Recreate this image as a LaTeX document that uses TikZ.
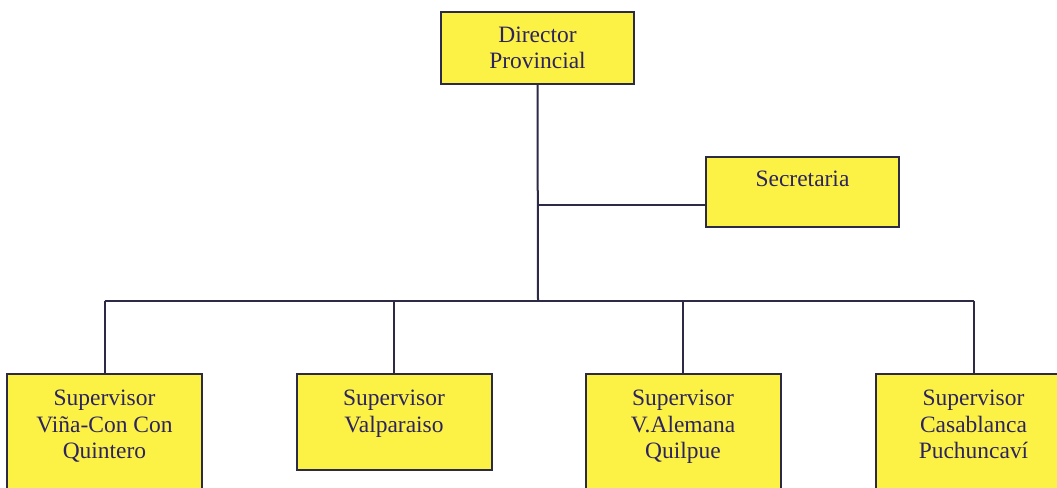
\documentclass[tikz,border=0pt]{standalone}
\usepackage{fontspec}
\setmainfont{Liberation Serif}
\newfontfamily\cargofont{Liberation Serif}
\usepackage{tikz}
\definecolor{boxfill}{RGB}{252,242,70}
\definecolor{boxline}{RGB}{45,42,70}
\definecolor{inktext}{RGB}{45,35,95}
\newcommand{\toptext}[2]{\parbox[c][#1][t]{130pt}{\centering #2}}

\begin{document}
\begin{tikzpicture}[x=0.75pt, y=-0.75pt,
	cargo/.style={draw=boxline, fill=boxfill, line width=1.5pt, text=inktext, font=\cargofont\fontsize{17.6}{20}\selectfont, inner sep=0pt, minimum width=144.75pt, align=center},
	supervisor/.style={cargo, anchor=north, minimum width=146.25pt, inner ysep=12pt},
	enlace/.style={draw=boxline, line width=1.5pt}]
	\useasboundingbox (0,0) rectangle (1057,488);
	\node [cargo, minimum height=54pt] (director) at (537.5,48) {Director\\Provincial};
	\node [cargo, minimum height=52.5pt, text height=11.6pt, text depth=19.9pt] (secretaria) at (802.5,192) {Secretaria};
	\node [supervisor] (vina) at (104.5,373) {\toptext{73.5pt}{Supervisor\\Viña-Con Con\\Quintero}};
	\node [supervisor] (valpo) at (394,373) {\toptext{48pt}{Supervisor\\Valparaiso}};
	\node [supervisor] (alemana) at (683,373) {\toptext{73.5pt}{Supervisor\\V.Alemana\\Quilpue}};
	\node [supervisor] (casa) at (973.5,373) {\toptext{73.5pt}{Supervisor\\Casablanca\\Puchuncaví}};
	\coordinate (rama) at (538,205);
	\coordinate (bus) at (538,301);
	\draw [enlace] (director.south) -- (bus);
	\draw [enlace] (rama) -- (rama -| secretaria.west);
	\draw [enlace] (vina.north |- bus) -- (casa.north |- bus);
	\foreach \s in {vina,valpo,alemana,casa}
		\draw [enlace] (\s.north |- bus) -- (\s.north);
\end{tikzpicture}
\end{document}
